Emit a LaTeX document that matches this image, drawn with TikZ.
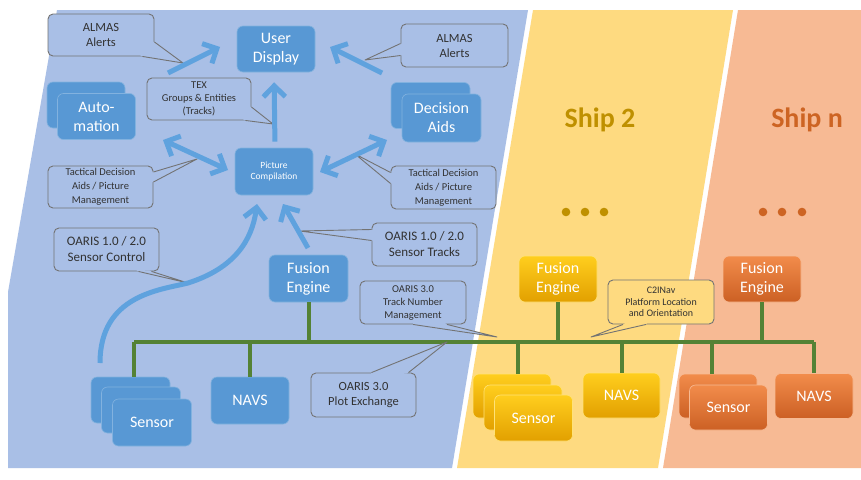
\documentclass[tikz,border=0pt]{standalone}
\usepackage{fontspec}
\setmainfont{Carlito}
\usetikzlibrary{arrows.meta,calc}
\definecolor{panelblue}{RGB}{169,191,230}
\definecolor{panelyellow}{RGB}{254,218,128}
\definecolor{panelorange}{RGB}{247,186,148}
\definecolor{nodeblue}{RGB}{88,152,212}
\definecolor{arrowblue}{RGB}{95,162,222}
\definecolor{busgreen}{RGB}{84,130,53}
\definecolor{callline}{RGB}{115,115,115}
\definecolor{calltext}{RGB}{50,50,50}
\definecolor{gold}{RGB}{191,144,0}
\definecolor{rust}{RGB}{205,100,35}
\definecolor{ytop}{RGB}{255,206,30}
\definecolor{ybot}{RGB}{226,160,0}
\definecolor{otop}{RGB}{242,140,75}
\definecolor{obot}{RGB}{204,96,36}
\newcommand{\calltail}[5]{%
  \fill[#5] ($(#3)!2.5pt!(#1.center)$) -- (#3) -- (#2) -- (#4) -- ($(#4)!2.5pt!(#1.center)$) -- cycle;
  \draw[callline, line width=0.9pt, line join=round] (#3) -- (#2) -- (#4);
}
\begin{document}
\begin{tikzpicture}[x=1pt,y=-1pt,
  box/.style={rounded corners=6pt, minimum width=78pt, minimum height=46pt, inner sep=0pt,
    align=center, text=white, font=\fontsize{16}{19}\selectfont},
  bbox/.style={box, fill=nodeblue, draw=white!25!nodeblue, line width=0.6pt},
  ybox/.style={box, top color=ytop, bottom color=ybot, draw=white!40!ytop, line width=0.6pt},
  obox/.style={box, top color=otop, bottom color=obot, draw=white!40!otop, line width=0.6pt},
  call/.style={rounded corners=5pt, draw=callline, line width=0.9pt, fill=panelblue,
    text=calltext, align=center, inner sep=0pt, minimum width=105pt, minimum height=43pt},
  small/.style={font=\fontsize{10.5}{13}\selectfont},
  mid/.style={font=\fontsize{12.5}{15}\selectfont},
  big/.style={font=\fontsize{13}{16}\selectfont},
  flow/.style={draw=arrowblue, line width=5pt, -{Straight Barb[length=11pt,width=22pt]}},
  flow2/.style={draw=arrowblue, line width=5pt, {Straight Barb[length=11pt,width=22pt]}-{Straight Barb[length=11pt,width=22pt]}},
  bus/.style={draw=busgreen, line width=4pt},
  title/.style={font=\fontsize{28}{30}\selectfont\bfseries}
]
\useasboundingbox (0,0) rectangle (861,479);
\fill[white] (0,0) rectangle (861,479);
% panels
\fill[panelblue] (57,10) -- (528,10) -- (452,468) -- (8,468) -- (8,292) -- cycle;
\fill[panelyellow] (533,10) -- (733,10) -- (658,468) -- (457,468) -- cycle;
\fill[panelorange] (738,10) -- (861,10) -- (861,468) -- (663,468) -- cycle;

% titles
\node[title, text=gold] (ship2) at (600,120) {Ship 2};
\node[title, text=rust] (shipn) at (807,120) {Ship n};
\foreach \x/\c in {566/gold,585/gold,604/gold,763/rust,782/rust,802/rust}
  \fill[\c] (\x,212) circle (4.3);

% ship 1 nodes
\node[bbox] (ud) at (276,49) {User\\Display};
\node[bbox, font=\fontsize{9.5}{11.5}\selectfont, minimum height=47pt] (pc) at (274,171.5) {Picture\\Compilation};
\node[bbox] (au1) at (86,105) {};
\node[bbox] (au2) at (96.5,116.5) {Auto-\\mation};
\node[bbox, minimum width=79pt] (da1) at (430.5,105.5) {};
\node[bbox, minimum width=79pt, minimum height=48pt] (da2) at (441.5,118) {Decision\\Aids};
\node[bbox, minimum width=79pt, minimum height=47pt] (fe) at (308.5,278.5) {Fusion\\Engine};
\node[bbox, minimum width=79pt] (bs1) at (130.5,400) {};
\node[bbox, minimum width=79pt] (bs2) at (141,410) {};
\node[bbox, minimum width=79pt, minimum height=47pt] (bs3) at (152,422.5) {Sensor};
\node[bbox, minimum height=47pt] (bn) at (250,400.5) {NAVS};

% ship 2 nodes
\node[ybox] (yfe) at (558,279) {Fusion\\Engine};
\node[ybox, minimum height=44pt] (ys1) at (512,396) {};
\node[ybox, minimum height=45pt] (ys2) at (523,407.5) {};
\node[ybox, minimum height=46pt] (ys3) at (533.5,418) {Sensor};
\node[ybox, minimum width=77pt, minimum height=45pt] (yn) at (621.5,395.5) {NAVS};

% ship n nodes
\node[obox] (ofe) at (762,279) {Fusion\\Engine};
\node[obox, minimum height=44pt] (os1) at (718,396) {};
\node[obox, minimum height=45pt] (os2) at (728.5,407.5) {Sensor};
\node[obox, minimum height=45pt] (on) at (814,396) {NAVS};

% green bus
\coordinate (d1) at ([xshift=3.5pt]bs1.north);
\coordinate (busL) at ($(d1)+(0,-35)$);
\coordinate (busR) at (on.north |- busL);
\draw[bus] (busL) -- (busR);
\draw[bus] (d1) -- (busL);
\draw[bus] (bn.north) -- (bn.north |- busL);
\draw[bus] (fe.south) -- (fe.south |- busL);
\draw[bus] (yfe.south) -- (yfe.south |- busL);
\draw[bus] ([xshift=6pt]ys1.north) -- ([xshift=6pt]ys1.north |- busL);
\draw[bus] (yn.north) -- (yn.north |- busL);
\draw[bus] (ofe.south) -- (ofe.south |- busL);
\draw[bus] ([xshift=-6pt]os1.north) -- ([xshift=-6pt]os1.north |- busL);
\draw[bus] (on.north) -- (on.north |- busL);

% callouts
\node[call, mid, minimum width=106pt, minimum height=42pt] (c1) at (101,35) {ALMAS\\Alerts};
\node[call, mid, minimum width=107pt] (c2) at (454.5,45.5) {ALMAS\\Alerts};
\node[call, small, minimum width=104pt, minimum height=42pt] (c3) at (199,99) {TEX\\Groups \& Entities\\(Tracks)};
\node[call, small, font=\fontsize{10.5}{14}\selectfont, minimum height=42pt] (c4) at (100.5,187) {Tactical Decision\\Aids / Picture\\Management};
\node[call, small, font=\fontsize{10.5}{14}\selectfont] (c5) at (443.5,187.5) {Tactical Decision\\Aids / Picture\\Management};
\node[call, big] (c6) at (106.5,249.5) {OARIS 1.0 / 2.0\\Sensor Control};
\node[call, big] (c7) at (424.5,244.5) {OARIS 1.0 / 2.0\\Sensor Tracks};
\node[call, small, minimum width=106pt] (c8) at (413,302.5) {OARIS 3.0\\Track Number\\Management};
\node[call, mid, font=\fontsize{12.5}{15.5}\selectfont, minimum height=44pt] (c9) at (363.5,395) {OARIS 3.0\\Plot Exchange};
\node[call, fill=panelyellow, font=\fontsize{10}{11.5}\selectfont, minimum width=106pt, minimum height=44pt] (c10) at (661,302) {C2INav\\Platform Location\\and Orientation};

\coordinate (t1) at (183,63);
\coordinate (c1a) at ($(c1.east)+(0,7)$);
\coordinate (c1b) at ($(c1.south east)+(-12,0)$);
\calltail{c1}{t1}{c1a}{c1b}{panelblue}
\coordinate (t2) at (365,60);
\coordinate (c2a) at ($(c2.west)+(0,-2)$);
\coordinate (c2b) at ($(c2.west)+(0,10)$);
\calltail{c2}{t2}{c2a}{c2b}{panelblue}
\coordinate (t3) at (273,124);
\coordinate (c3a) at ($(c3.east)+(0,8)$);
\coordinate (c3b) at ($(c3.south east)+(-6,0)$);
\calltail{c3}{t3}{c3a}{c3b}{panelblue}
\coordinate (t4) at (197,159);
\coordinate (c4a) at ($(c4.east)+(0,-15)$);
\coordinate (c4b) at ($(c4.east)+(0,-5)$);
\calltail{c4}{t4}{c4a}{c4b}{panelblue}
\coordinate (t5) at (355,154);
\coordinate (c5a) at ($(c5.west)+(0,-15)$);
\coordinate (c5b) at ($(c5.west)+(0,-4)$);
\calltail{c5}{t5}{c5a}{c5b}{panelblue}
\coordinate (t6) at (188,283);
\coordinate (c6a) at ($(c6.south)+(32,0)$);
\coordinate (c6b) at ($(c6.south)+(45,0)$);
\calltail{c6}{t6}{c6a}{c6b}{panelblue}
\coordinate (t7) at (300,231);
\coordinate (c7a) at ($(c7.west)+(0,-15)$);
\coordinate (c7b) at ($(c7.west)+(0,-4)$);
\calltail{c7}{t7}{c7a}{c7b}{panelblue}
\coordinate (t8) at (497,337);
\coordinate (c8a) at ($(c8.south)+(0,0)$);
\coordinate (c8b) at ($(c8.south)+(34,0)$);
\calltail{c8}{t8}{c8a}{c8b}{panelblue}
\coordinate (t9) at (447,342);
\coordinate (c9a) at ($(c9.north)+(8,0)$);
\coordinate (c9b) at ($(c9.north)+(45,0)$);
\calltail{c9}{t9}{c9a}{c9b}{panelblue}
\coordinate (t10) at (591,337);
\coordinate (c10a) at ($(c10.south)+(-38,0)$);
\coordinate (c10b) at ($(c10.south)+(-15,0)$);
\calltail{c10}{t10}{c10a}{c10b}{panelyellow}

% flows
\coordinate (a1s) at (168,73); \coordinate (a1e) at (220,47);
\coordinate (a2s) at (382,73); \coordinate (a2e) at (330,47);
\coordinate (a4s) at (163,140); \coordinate (a4e) at (228,170);
\coordinate (a5s) at (320,172); \coordinate (a5e) at (387,140);
\coordinate (a6s) at (100,363); \coordinate (a6m) at (188,283); \coordinate (a6e) at (257,204);
\coordinate (a7s) at (308,248); \coordinate (a7e) at (283,204);
\draw[flow] (a1s) -- (a1e);
\draw[flow] (a2s) -- (a2e);
\draw[flow, shorten <=6pt, shorten >=10pt] ([xshift=1pt]pc.north) -- (pc.north |- ud.south);
\draw[flow2] (a4s) -- (a4e);
\draw[flow2] (a5s) -- (a5e);
\draw[flow] (a6s) .. controls (100,295) and (160,290) .. (a6m) .. controls (235,268) and (252,240) .. (a6e);
\draw[flow] (a7s) -- (a7e);
\end{tikzpicture}
\end{document}
